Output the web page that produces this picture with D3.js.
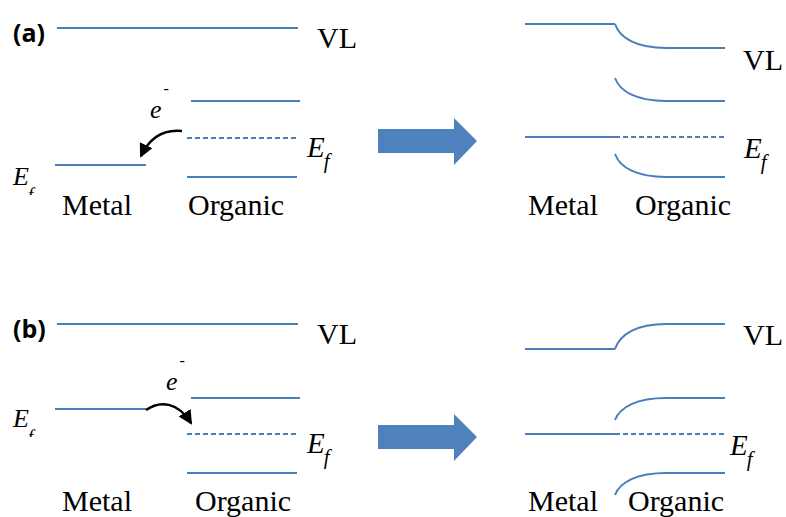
<!DOCTYPE html>
<html>
<head>
<meta charset="utf-8">
<script src="https://cdn.jsdelivr.net/npm/d3@7"></script>
<style>
  html, body { margin: 0; padding: 0; background: #fff; }
  svg { display: block; }
</style>
</head>
<body>
<svg id="chart" width="786" height="517"></svg>
<script>
// Energy levels, in eV below each panel's top reference line.
// Before contact: [vacuum level, LUMO, organic Fermi level, HOMO, metal Fermi level]
const beforeNames = ["VL", "LUMO", "EfOrganic", "HOMO", "EfMetal"];
const beforeA = [0, 2.92, 4.4, 5.96, 5.48];
const beforeB = [0, 2.96, 4.4, 5.96, 3.4];

// After contact: [metal VL, organic bulk VL, LUMO at interface, LUMO bulk,
//                 common Fermi level, HOMO at interface, HOMO bulk]
const afterNames = ["VLmetal", "VLbulk", "LUMOint", "LUMObulk", "Ef", "HOMOint", "HOMObulk"];
const afterA = [0, 0.96, 2.16, 3.08, 4.52, 5.2, 6.12];
const afterB = [1.0, 0, 3.84, 2.96, 4.4, 6.84, 5.96];

const panelTags = ["(a)", "(b)"];
const sideLabels = ["Metal", "Organic"];
const levelLabel = "VL";

const SERIF = "Liberation Serif";
const SANS = "Open Sans";

const svg = d3.select("#chart");
const defs = svg.append("defs");
const blue = "#4a7ebb";
const pxPerEv = 25;

// arrowhead for the electron-transfer arrows
defs.append("marker")
  .attr("id", "head")
  .attr("markerUnits", "userSpaceOnUse")
  .attr("viewBox", "0 -7 14 14")
  .attr("refX", 12).attr("refY", 0)
  .attr("markerWidth", 14).attr("markerHeight", 14)
  .attr("orient", "auto")
  .append("path").attr("d", "M0,-7L14,0L0,7Z").attr("fill", "#000");

function energyScale(top) {
  return d3.scaleLinear().domain([0, 1]).range([top, top + pxPerEv]);
}

function hline(g, x0, x1, y, dashed) {
  g.append("line")
    .attr("x1", x0).attr("x2", x1).attr("y1", y).attr("y2", y)
    .attr("stroke", blue).attr("stroke-width", 2)
    .attr("stroke-dasharray", dashed ? "5,3" : null);
}

function serifText(g, txt, x, y, size, italic) {
  return g.append("text")
    .attr("x", x).attr("y", y)
    .attr("font-family", SERIF)
    .attr("font-size", size)
    .attr("font-style", italic ? "italic" : null)
    .attr("fill", "#000")
    .text(txt);
}

// "E" with a subscript "f"; optionally clipped below a given y
function fermiLabel(g, x, y, size, subDy, clipBottom) {
  const t = g.append("text")
    .attr("x", x).attr("y", y)
    .attr("font-family", SERIF)
    .attr("font-size", size)
    .attr("font-style", "italic")
    .attr("fill", "#000");
  t.append("tspan").text("E");
  t.append("tspan").attr("dx", -1).attr("dy", subDy).attr("font-size", size * 0.72).text("f");
  if (clipBottom != null) {
    const id = "clip" + Math.round(x) + "_" + Math.round(y);
    defs.append("clipPath").attr("id", id)
      .append("rect").attr("x", 0).attr("y", 0).attr("width", 786).attr("height", clipBottom);
    t.attr("clip-path", `url(#${id})`);
  }
}

// "e" with a superscript minus
function electronLabel(g, x, y) {
  const t = g.append("text")
    .attr("x", x).attr("y", y)
    .attr("font-family", SERIF)
    .attr("font-size", 26)
    .attr("fill", "#000");
  t.append("tspan").attr("font-style", "italic").text("e");
  t.append("tspan").attr("dx", 2).attr("dy", -24).attr("font-size", 16).text("-");
}

// Left-hand diagrams: levels before contact
function drawBefore(levels, top, opt) {
  const g = svg.append("g");
  const y = energyScale(top);
  const [vl, lumo, efOrg, homo, efMetal] = levels;
  hline(g, 57, 298, y(vl));
  hline(g, 191, 300, y(lumo));
  hline(g, 187, 297, y(efOrg), true);
  hline(g, 187, 297, y(homo));
  hline(g, 55, 146, y(efMetal));

  g.append("text").attr("x", 13).attr("y", opt.tagY)
    .attr("font-family", SANS).attr("font-weight", 700)
    .attr("font-size", 25).attr("fill", "#000").text(opt.tag);
  serifText(g, levelLabel, 317, y(vl) + 20, 30, false);
  fermiLabel(g, 307, y(efOrg) + 19, 29, 11);
  fermiLabel(g, 13, y(efMetal) + opt.leftEfDy, 26, 16, y(efMetal) + opt.leftEfClip);

  electronLabel(g, opt.eX, opt.eY);

  g.append("path").attr("d", opt.arrow)
    .attr("fill", "none").attr("stroke", "#000").attr("stroke-width", 2.5)
    .attr("marker-end", "url(#head)");

  serifText(g, sideLabels[0], 62, opt.textY, 30, false);
  serifText(g, sideLabels[1], opt.orgX, opt.textY, 30, false);
}

// Right-hand diagrams: band bending after contact
function drawAfter(levels, top, opt) {
  const g = svg.append("g");
  const y = energyScale(top);
  const [vlM, vlB, lumoI, lumoB, ef, homoI, homoB] = levels;
  const xs = 525, xi = 615, xb = 666, xe = 725;

  function bend(y0, y1) {
    g.append("path")
      .attr("d", `M${xi},${y0}C${xi + 5},${y0 + (y1 - y0) * 0.6} ${xi + 22},${y1} ${xb},${y1}L${xe},${y1}`)
      .attr("fill", "none").attr("stroke", blue).attr("stroke-width", 2);
  }
  hline(g, xs, xi, y(vlM));
  bend(y(vlM), y(vlB));
  bend(y(lumoI), y(lumoB));
  hline(g, xs, xi, y(ef));
  hline(g, xi, xe, y(ef), true);
  bend(y(homoI), y(homoB));

  serifText(g, levelLabel, 743, opt.vlY, 30, false);
  fermiLabel(g, opt.efX, y(ef) + 21, 29, 11);
  serifText(g, sideLabels[0], 528, opt.textY, 30, false);
  serifText(g, sideLabels[1], opt.orgX, opt.textY, 30, false);
}

drawBefore(beforeA, 28, {
  tag: panelTags[0], tagY: 42, leftEfDy: 20, leftEfClip: 30,
  eX: 150, eY: 118, arrow: "M182,131C164,129 150,137 141,156",
  textY: 215, orgX: 188
});
drawBefore(beforeB, 324, {
  tag: panelTags[1], tagY: 338, leftEfDy: 18, leftEfClip: 28,
  eX: 166, eY: 390, arrow: "M146,410C160,400 178,402 191,423",
  textY: 511, orgX: 195
});
drawAfter(afterA, 24, { vlY: 70, efX: 744, textY: 215, orgX: 635 });
drawAfter(afterB, 324, { vlY: 345, efX: 730, textY: 511, orgX: 628 });

// Block arrow between "before" and "after" diagrams
const bigArrow = [[378, 129], [454, 129], [454, 118], [477, 141], [454, 165], [454, 153], [378, 153]];
svg.append("path").attr("d", d3.line()(bigArrow) + "Z").attr("fill", "#4f81bd");
svg.append("path").attr("d", d3.line()(bigArrow.map(([x, yy]) => [x, yy + 296])) + "Z").attr("fill", "#4f81bd");
</script>
</body>
</html>
